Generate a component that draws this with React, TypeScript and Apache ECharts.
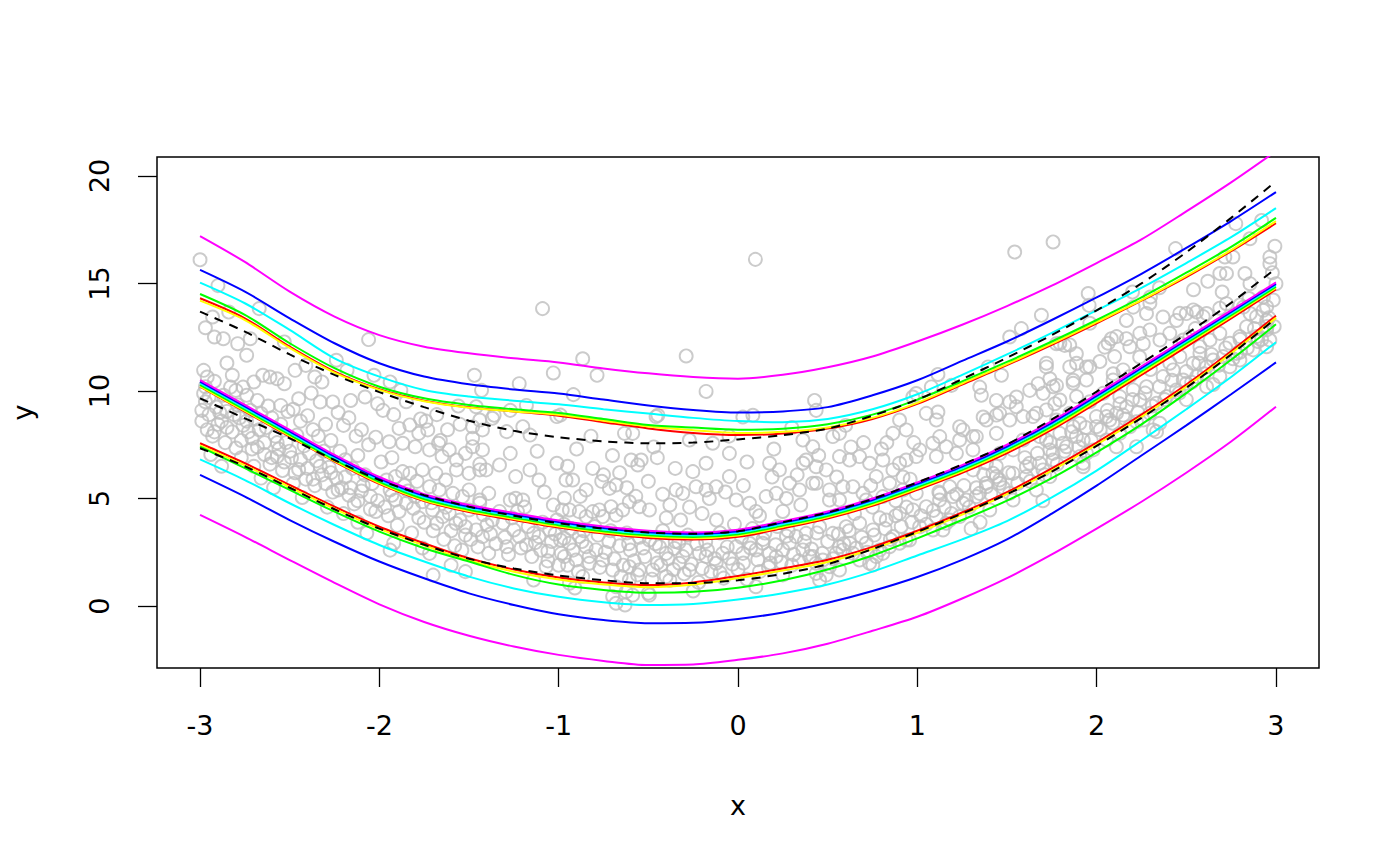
import React, { useEffect, useRef } from "react";
import * as echarts from "echarts";

const xGrid = [-3, -2.75, -2.5, -2.25, -2, -1.75, -1.5, -1.25, -1, -0.75, -0.5, -0.25, 0, 0.25, 0.5, 0.75, 1, 1.25, 1.5, 1.75, 2, 2.25, 2.5, 2.75, 3];
const xTicks = [-3, -2, -1, 0, 1, 2, 3];
const yTicks = [0, 5, 10, 15, 20];

// upper curves
const magentaUp = [17.2, 16.0, 14.62, 13.46, 12.6, 12.06, 11.75, 11.52, 11.33, 11.05, 10.82, 10.65, 10.57, 10.75, 11.1, 11.6, 12.3, 13.08, 13.95, 14.9, 15.95, 17.05, 18.35, 19.7, 21.15];
const blueUp = [15.63, 14.62, 13.38, 12.22, 11.29, 10.67, 10.31, 10.07, 9.88, 9.6, 9.33, 9.12, 9.0, 9.05, 9.25, 9.8, 10.5, 11.4, 12.3, 13.3, 14.35, 15.45, 16.65, 17.9, 19.25];
const cyanUp = [15.04, 14.08, 12.84, 11.52, 10.67, 10.05, 9.74, 9.55, 9.38, 9.15, 8.95, 8.75, 8.6, 8.55, 8.7, 9.15, 9.85, 10.75, 11.7, 12.7, 13.75, 14.8, 15.95, 17.15, 18.5];
const greenUp = [14.51, 13.54, 12.22, 11.06, 10.2, 9.66, 9.35, 9.15, 8.98, 8.7, 8.42, 8.3, 8.2, 8.25, 8.45, 8.9, 9.6, 10.45, 11.35, 12.3, 13.3, 14.35, 15.5, 16.7, 18.05];
const yellowUp = [14.2, 13.3, 12.0, 10.85, 10.05, 9.52, 9.22, 9.05, 8.9, 8.62, 8.35, 8.18, 8.05, 8.1, 8.3, 8.75, 9.45, 10.35, 11.25, 12.2, 13.2, 14.22, 15.35, 16.55, 17.9];
const redUp = [14.31, 13.38, 12.06, 10.9, 10.08, 9.55, 9.24, 9.05, 8.85, 8.55, 8.26, 8.05, 7.95, 8.02, 8.25, 8.7, 9.4, 10.3, 11.2, 12.15, 13.15, 14.2, 15.3, 16.5, 17.8];
const blackUp = [13.69, 12.76, 11.7, 10.75, 9.95, 9.25, 8.62, 8.15, 7.85, 7.66, 7.57, 7.6, 7.75, 7.95, 8.25, 8.85, 9.6, 10.55, 11.55, 12.6, 13.75, 15.0, 16.45, 18.05, 19.75];

// middle curves
const magentaMid = [10.51, 9.35, 8.19, 7.03, 6.0, 5.2, 4.7, 4.33, 3.98, 3.7, 3.5, 3.42, 3.55, 3.95, 4.4, 5.0, 5.75, 6.55, 7.5, 8.6, 9.85, 11.15, 12.45, 13.75, 15.05];
const blueMid = [10.44, 9.28, 8.12, 6.96, 5.93, 5.13, 4.63, 4.26, 3.91, 3.63, 3.43, 3.35, 3.48, 3.88, 4.33, 4.93, 5.68, 6.48, 7.42, 8.52, 9.77, 11.07, 12.38, 13.68, 14.98];
const cyanMid = [10.37, 9.21, 8.05, 6.89, 5.86, 5.06, 4.56, 4.19, 3.84, 3.56, 3.36, 3.28, 3.41, 3.81, 4.26, 4.86, 5.61, 6.41, 7.35, 8.45, 9.7, 11.0, 12.31, 13.61, 14.92];
const greenMid = [10.28, 9.13, 7.97, 6.81, 5.78, 4.98, 4.48, 4.11, 3.76, 3.48, 3.29, 3.21, 3.34, 3.74, 4.19, 4.79, 5.53, 6.33, 7.27, 8.36, 9.62, 10.92, 12.23, 13.53, 14.85];
const yellowMid = [10.22, 9.07, 7.91, 6.75, 5.72, 4.92, 4.42, 4.05, 3.7, 3.42, 3.23, 3.15, 3.28, 3.68, 4.13, 4.72, 5.46, 6.26, 7.19, 8.28, 9.54, 10.84, 12.15, 13.46, 14.79];
const redMid = [10.2, 9.04, 7.88, 6.72, 5.68, 4.88, 4.37, 4.0, 3.65, 3.37, 3.17, 3.1, 3.22, 3.62, 4.07, 4.66, 5.4, 6.19, 7.11, 8.2, 9.45, 10.75, 12.05, 13.38, 14.72];
const blackMid = [9.66, 8.73, 7.8, 6.79, 5.86, 5.16, 4.62, 4.2, 3.85, 3.6, 3.42, 3.36, 3.48, 3.9, 4.35, 4.98, 5.75, 6.58, 7.52, 8.68, 9.97, 11.3, 12.65, 14.1, 15.7];

// lower curves
const redLow = [7.57, 6.64, 5.63, 4.62, 3.69, 2.92, 2.22, 1.7, 1.33, 1.1, 0.98, 1.1, 1.4, 1.75, 2.15, 2.75, 3.5, 4.35, 5.3, 6.4, 7.6, 8.9, 10.3, 11.85, 13.5];
const yellowLow = [7.47, 6.54, 5.53, 4.52, 3.59, 2.82, 2.12, 1.6, 1.23, 1.0, 0.88, 1.0, 1.3, 1.65, 2.05, 2.65, 3.4, 4.25, 5.2, 6.3, 7.5, 8.8, 10.2, 11.75, 13.4];
const blackLow = [7.34, 6.5, 5.5, 4.5, 3.6, 2.85, 2.2, 1.75, 1.42, 1.2, 1.06, 1.07, 1.2, 1.5, 1.95, 2.65, 3.45, 4.3, 5.2, 6.25, 7.45, 8.75, 10.15, 11.7, 13.38];
const greenLow = [7.41, 6.41, 5.4, 4.39, 3.46, 2.69, 2.07, 1.45, 1.0, 0.75, 0.62, 0.66, 0.85, 1.2, 1.7, 2.35, 3.15, 4.0, 4.9, 5.95, 7.15, 8.45, 9.9, 11.45, 13.1];
const cyanLow = [6.82, 5.86, 4.78, 3.77, 2.84, 2.07, 1.37, 0.82, 0.43, 0.18, 0.05, 0.1, 0.3, 0.6, 1.0, 1.6, 2.35, 3.1, 3.95, 5.05, 6.3, 7.7, 9.15, 10.65, 12.27];
const blueLow = [6.1, 5.09, 4.0, 2.99, 2.07, 1.29, 0.59, 0.05, -0.38, -0.65, -0.8, -0.78, -0.6, -0.3, 0.15, 0.7, 1.35, 2.15, 3.1, 4.3, 5.6, 7.0, 8.4, 9.85, 11.33];
const magentaLow = [4.24, 3.22, 2.14, 1.08, 0.08, -0.74, -1.38, -1.88, -2.27, -2.55, -2.74, -2.72, -2.5, -2.2, -1.75, -1.15, -0.5, 0.35, 1.3, 2.4, 3.6, 4.85, 6.2, 7.65, 9.27];

// observations (x, y)
const obsLeft = [
  [-3.0, 16.1], [-2.9, 14.9], [-2.67, 13.83], [-2.84, 13.67], [-2.93, 13.44], [-2.97, 12.94], [-2.92, 12.51],
  [-2.87, 12.43], [-2.79, 12.2], [-2.74, 11.66], [-2.72, 12.43], [-2.53, 12.28], [-2.24, 11.43], [-2.18, 10.96],
  [-2.06, 12.39], [-2.41, 11.19], [-2.36, 10.65], [-2.32, 10.42], [-2.47, 10.96], [-2.65, 10.73], [-2.61, 10.65],
  [-2.57, 10.57], [-2.53, 10.34], [-2.98, 10.96], [-2.96, 10.65], [-2.82, 10.73], [-2.76, 10.18], [-2.7, 10.42],
  [-2.83, 10.18], [-2.8, 10.03], [-2.87, 9.8], [-2.74, 9.8], [-2.68, 9.56], [-2.98, 9.88], [-2.99, 9.1],
  [-2.55, 9.33], [-2.45, 9.64], [-2.33, 9.49], [-2.26, 9.49], [-2.16, 9.56], [-2.08, 9.72], [-2.01, 9.41],
  [-2.03, 10.73], [-2.97, 9.5], [-2.95, 8.9], [-2.91, 9.25], [-2.88, 8.6], [-2.85, 9.05], [-2.96, 8.2],
  [-2.93, 7.9], [-2.9, 8.45], [-2.82, 8.1], [-2.78, 8.75], [-2.86, 7.6], [-2.8, 7.35], [-2.77, 6.9],
  [-2.94, 7.05], [-2.88, 6.5], [-2.79, 9.35], [-2.76, 8.4], [-2.97, 10.2], [-2.92, 10.45], [-2.85, 11.3],
  [-2.72, 9.1], [-2.69, 8.7], [-2.66, 8.95], [-2.63, 8.3], [-2.6, 8.75], [-2.58, 7.9], [-2.55, 8.45],
  [-2.52, 7.6], [-2.71, 7.8], [-2.68, 7.4], [-2.64, 7.05], [-2.61, 6.6], [-2.57, 6.95], [-2.54, 6.3],
  [-2.7, 6.5], [-2.66, 5.95], [-2.59, 5.5], [-2.73, 8.1], [-2.62, 9.3], [-2.51, 9.05], [-2.56, 7.3],
  [-2.48, 9.15], [-2.44, 8.6], [-2.4, 8.85], [-2.37, 8.2], [-2.34, 7.9], [-2.3, 8.45], [-2.27, 7.7],
  [-2.46, 7.95], [-2.42, 7.45], [-2.39, 7.1], [-2.35, 6.75], [-2.31, 7.2], [-2.28, 6.45], [-2.49, 6.9],
  [-2.45, 6.35], [-2.41, 5.9], [-2.36, 5.6], [-2.32, 6.1], [-2.26, 5.3], [-2.48, 5.7], [-2.43, 5.05],
  [-2.29, 4.6], [-2.38, 9.9], [-2.23, 9.0], [-2.2, 8.4], [-2.17, 8.75], [-2.13, 7.9], [-2.1, 8.2],
  [-2.06, 7.5], [-2.02, 7.85], [-2.22, 7.2], [-2.19, 6.8], [-2.15, 6.4], [-2.12, 7.0], [-2.08, 6.1],
  [-2.04, 5.7], [-2.24, 5.95], [-2.21, 5.5], [-2.17, 5.15], [-2.14, 4.75], [-2.1, 5.35], [-2.05, 4.5],
  [-2.01, 4.9], [-2.2, 4.3], [-2.07, 3.4], [-2.12, 3.9],
  [-2.99, 8.6], [-2.95, 9.7], [-2.92, 8.1], [-2.89, 9.0], [-2.85, 8.3], [-2.81, 8.9], [-2.77, 7.7],
  [-2.74, 8.6], [-2.71, 7.3], [-2.67, 8.2], [-2.64, 7.6], [-2.6, 6.9], [-2.57, 7.6], [-2.53, 6.7],
  [-2.5, 7.2], [-2.47, 6.2], [-2.44, 6.8], [-2.4, 6.4], [-2.37, 5.9], [-2.33, 6.5], [-2.3, 5.7],
  [-2.27, 6.2], [-2.23, 5.4], [-2.19, 6.0], [-2.16, 5.5], [-2.12, 4.9], [-2.09, 5.6], [-2.05, 5.1],
  [-2.02, 4.4],
];

const obsCentreLeft = [
  [-1.94, 10.42], [-1.88, 10.03], [-1.47, 10.73], [-1.43, 10.03], [-1.36, 8.87], [-1.27, 9.1], [-1.22, 10.34],
  [-1.03, 10.84], [-1.18, 9.33], [-1.09, 13.83], [-1.945, 7.64], [-1.89, 8.26], [-1.83, 8.42], [-1.78, 8.03],
  [-1.73, 8.19], [-1.87, 7.57], [-1.8, 7.41], [-1.72, 7.26], [-1.67, 7.57], [-1.87, 6.25], [-1.83, 6.17],
  [-1.91, 6.02], [-1.96, 5.86], [-1.76, 6.33], [-1.85, 4.78], [-1.8, 5.09], [-1.91, 4.93], [-1.94, 5.4],
  [-1.76, 4.85], [-1.98, 9.1], [-1.92, 8.9], [-1.85, 9.5], [-1.77, 8.7], [-1.95, 4.2], [-1.9, 3.75],
  [-1.82, 3.4], [-1.78, 4.1], [-1.99, 6.7], [-1.93, 6.9], [-1.86, 5.6], [-1.79, 5.8], [-1.76, 2.7],
  [-1.94, 2.6], [-1.92, 2.92], [-1.7, 1.44], [-1.52, 1.6], [-1.666, 5.4], [-1.61, 7.26], [-1.65, 6.95],
  [-1.57, 6.79], [-1.52, 7.1], [-1.685, 6.17], [-1.63, 5.86], [-1.57, 6.33], [-1.703, 4.47], [-1.647, 4.16],
  [-1.61, 4.31], [-1.573, 3.85], [-1.536, 5.09], [-1.59, 5.24], [-1.72, 5.55], [-1.74, 8.6], [-1.68, 8.9],
  [-1.62, 8.2], [-1.55, 8.45], [-1.7, 3.5], [-1.64, 3.1], [-1.58, 2.8], [-1.52, 3.3], [-1.72, 2.45],
  [-1.6, 1.9], [-1.66, 7.7], [-1.56, 9.3], [-1.48, 7.8], [-1.425, 8.19], [-1.48, 8.34], [-1.46, 9.27],
  [-1.425, 7.26], [-1.44, 6.33], [-1.405, 6.33], [-1.5, 6.17], [-1.52, 3.69], [-1.46, 3.54], [-1.425, 3.23],
  [-1.5, 4.47], [-1.44, 4.78], [-1.4, 3.77], [-1.37, 4.0], [-1.31, 3.85], [-1.25, 3.54], [-1.44, 4.93],
  [-1.5, 5.4], [-1.39, 5.24], [-1.44, 6.6], [-1.33, 6.56], [-1.27, 7.1], [-1.48, 7.41], [-1.44, 8.65],
  [-1.37, 8.73], [-1.29, 8.11], [-1.27, 4.93], [-1.24, 5.01], [-1.39, 2.45], [-1.29, 2.76], [-1.2, 8.34],
  [-1.16, 7.95], [-1.01, 8.81], [-1.24, 6.02], [-1.16, 6.33], [-1.11, 5.86], [-1.01, 6.64], [-1.22, 3.23],
  [-1.18, 2.84], [-1.14, 3.38], [-1.11, 3.23], [-1.05, 3.54], [-1.01, 4.0], [-1.2, 4.93], [-1.14, 1.21],
  [-1.07, 1.83], [-1.23, 4.4], [-1.19, 4.6], [-1.15, 2.3], [-1.1, 2.6], [-1.06, 2.1], [-1.03, 4.7],
  [-1.12, 7.2], [-1.08, 5.3], [-1.04, 3.0],
  [-1.97, 4.6], [-1.93, 5.15], [-1.89, 4.4], [-1.84, 5.35], [-1.81, 4.55], [-1.75, 3.9], [-1.71, 4.8],
  [-1.68, 3.85], [-1.63, 4.6], [-1.6, 3.5], [-1.55, 4.0], [-1.54, 2.6], [-1.49, 3.1], [-1.45, 2.75],
  [-1.42, 4.25], [-1.38, 3.35], [-1.35, 2.9], [-1.33, 4.4], [-1.3, 3.2], [-1.28, 2.4], [-1.26, 4.1],
  [-1.21, 2.7], [-1.17, 3.7], [-1.13, 2.95], [-1.09, 3.9], [-1.06, 2.55], [-1.02, 3.35], [-1.0, 1.9],
];

const obsCentre = [
  [-0.866, 11.5], [-0.786, 10.73], [-0.918, 9.83], [-0.289, 11.63], [-0.178, 9.98], [-0.447, 8.87],
  [-0.99, 8.88], [-0.633, 8.03], [-0.587, 8.03], [-0.81, 6.4], [-0.596, 6.79], [-0.559, 6.56], [-0.54, 6.79],
  [-0.959, 5.86], [-0.922, 5.86], [-0.847, 5.4], [-0.968, 5.01], [-0.717, 5.47], [-0.68, 5.63], [-0.98, 4.47],
  [-0.94, 4.47], [-0.885, 4.39], [-0.847, 4.16], [-0.81, 4.39], [-0.773, 4.47], [-0.754, 4.16], [-0.708, 4.62],
  [-0.68, 4.23], [-0.643, 4.47], [-0.606, 4.85], [-0.55, 4.62], [-0.494, 4.47], [-0.99, 3.07], [-0.97, 3.15],
  [-0.94, 2.92], [-0.885, 3.23], [-0.847, 2.76], [-0.792, 2.61], [-0.985, 2.45], [-0.968, 2.3], [-0.903, 2.14],
  [-0.829, 1.99], [-0.754, 2.14], [-0.699, 1.68], [-0.652, 1.37], [-0.606, 1.21], [-0.94, 1.06], [-0.866, 1.37],
  [-0.699, 0.44], [-0.63, 0.05], [-0.587, 0.51], [-0.494, 0.51], [-0.68, 0.9], [-0.494, 3.07], [-0.438, 2.76],
  [-0.401, 2.45], [-0.354, 2.68], [-0.308, 2.3], [-0.327, 1.99], [-0.271, 1.68], [-0.215, 2.45], [-0.178, 2.3],
  [-0.122, 1.99], [-0.085, 2.45], [-0.048, 2.22], [-0.01, 2.76], [-0.475, 1.68], [-0.401, 1.37], [-0.606, 1.83],
  [-0.55, 1.68], [-0.624, 0.67], [-0.457, 8.81], [-0.271, 7.72], [-0.141, 7.57], [-0.048, 7.1], [-0.178, 6.64],
  [-0.252, 6.25], [-0.345, 5.4], [-0.308, 5.24], [-0.234, 5.55], [-0.178, 5.4], [-0.122, 5.55], [-0.048, 6.02],
  [-0.01, 4.93], [-0.68, 0.13], [-0.45, 2.0], [-0.38, 1.2], [-0.3, 1.5], [-0.22, 1.1], [-0.15, 1.6],
  [-0.08, 1.3], [-0.6, 2.6], [-0.55, 3.2], [-0.42, 3.5], [-0.35, 3.0], [-0.28, 3.3], [-0.18, 3.0],
  [-0.1, 3.4], [-0.5, 0.6], [-0.25, 0.7], [-0.9, 7.3], [-0.7, 7.0], [-0.45, 6.9], [-0.35, 6.4], [-0.05, 7.9],
  [-0.93, 3.6], [-0.86, 3.5], [-0.78, 3.3], [-0.72, 3.0], [-0.66, 2.8], [-0.62, 3.4], [-0.52, 2.3],
  [-0.4, 4.1], [-0.32, 4.0], [-0.2, 4.3], [-0.12, 4.0], [-0.02, 3.8], [-0.75, 6.1], [-0.62, 5.5],
  [-0.5, 5.8], [-0.42, 5.2], [-0.82, 7.9], [-0.91, 0.84],
  [-0.97, 3.8], [-0.95, 1.9], [-0.92, 2.6], [-0.89, 1.6], [-0.87, 3.0], [-0.83, 2.3], [-0.8, 3.7],
  [-0.77, 1.8], [-0.74, 2.5], [-0.71, 3.5], [-0.69, 2.2], [-0.64, 1.9], [-0.61, 2.9], [-0.58, 2.1],
  [-0.56, 1.45], [-0.53, 2.7], [-0.48, 1.25], [-0.46, 2.9], [-0.43, 1.9], [-0.39, 2.2], [-0.36, 1.7],
  [-0.33, 2.95], [-0.29, 2.6], [-0.26, 1.95], [-0.23, 2.9], [-0.2, 1.75], [-0.17, 2.6], [-0.13, 2.2],
  [-0.1, 1.55], [-0.06, 2.75], [-0.03, 1.95], [-0.95, 6.5], [-0.88, 5.1], [-0.76, 5.8], [-0.66, 6.2],
  [-0.57, 5.1], [-0.47, 7.4], [-0.38, 4.7], [-0.27, 4.6], [-0.16, 5.0], [-0.07, 5.3],
];

const obsCentreRight = [
  [0.097, 16.12], [0.427, 9.56], [0.436, 9.1], [0.027, 8.79], [0.083, 8.87], [0.994, 9.88], [0.975, 9.72],
  [0.027, 2.45], [0.064, 2.92], [0.101, 2.61], [0.138, 2.92], [0.176, 2.45], [0.213, 2.3], [0.25, 2.61],
  [0.287, 2.92], [0.324, 3.23], [0.362, 2.61], [0.399, 2.3], [0.436, 1.99], [0.473, 2.14], [0.51, 1.83],
  [0.548, 2.45], [0.585, 2.61], [0.622, 2.92], [0.678, 2.14], [0.734, 1.99], [0.771, 2.3], [0.808, 2.45],
  [0.845, 2.76], [0.901, 2.92], [0.957, 3.07], [0.492, 1.44], [0.566, 1.68], [0.064, 4.78], [0.157, 5.09],
  [0.213, 5.24], [0.287, 5.71], [0.343, 5.4], [0.436, 5.71], [0.51, 4.93], [0.176, 6.64], [0.231, 6.33],
  [0.362, 6.64], [0.436, 6.48], [0.492, 6.33], [0.566, 6.95], [0.622, 6.79], [0.678, 6.95], [0.734, 6.64],
  [0.808, 6.79], [0.901, 6.64], [0.994, 6.95], [0.362, 7.72], [0.417, 7.41], [0.529, 7.88], [0.864, 8.03],
  [0.938, 8.19], [0.771, 6.02], [0.845, 5.71], [0.585, 5.55], [0.697, 5.24], [0.808, 5.09], [0.92, 5.4],
  [0.994, 5.24], [0.436, 1.52], [0.455, 1.21], [0.752, 1.91], [0.417, 2.3], [0.566, 2.76], [0.641, 2.45],
  [0.715, 2.92], [0.79, 2.61], [0.864, 3.23], [0.938, 3.07], [0.38, 3.38], [0.455, 3.69], [0.529, 3.38],
  [0.603, 3.69], [0.678, 3.85], [0.752, 3.54], [0.827, 4.0], [0.901, 4.31], [0.975, 4.47], [0.38, 6.79],
  [0.864, 6.33], [0.938, 6.79], [0.566, 8.03], [0.901, 8.65], [0.417, 5.71], [0.51, 5.4], [0.641, 5.55],
  [0.715, 4.93], [0.566, 4.93], [0.0, 1.7], [0.05, 1.25], [0.12, 1.6], [0.18, 2.0], [0.25, 1.45],
  [0.3, 1.9], [0.1, 0.9], [0.02, 3.2], [0.08, 3.6], [0.15, 3.4], [0.22, 3.7], [0.28, 3.5], [0.05, 6.7],
  [0.2, 7.3], [0.3, 8.3], [0.12, 4.2], [0.25, 4.4], [0.35, 4.7], [0.65, 4.3], [0.75, 4.6], [0.88, 4.9],
  [0.6, 8.4], [0.7, 7.6], [0.8, 7.3], [0.96, 5.9],
  [0.03, 2.0], [0.07, 2.7], [0.11, 2.15], [0.14, 3.1], [0.17, 1.8], [0.21, 2.85], [0.24, 2.05],
  [0.27, 3.25], [0.31, 2.4], [0.34, 2.1], [0.37, 3.0], [0.41, 2.65], [0.44, 3.4], [0.47, 2.45],
  [0.5, 3.0], [0.53, 2.2], [0.56, 3.35], [0.59, 2.9], [0.62, 3.5], [0.66, 2.7], [0.69, 3.2],
  [0.72, 2.5], [0.76, 3.3], [0.79, 4.1], [0.82, 3.6], [0.85, 3.1], [0.88, 4.2], [0.91, 3.7],
  [0.94, 4.6], [0.97, 3.9], [0.03, 5.6], [0.1, 4.4], [0.19, 6.0], [0.27, 5.0], [0.33, 6.1],
  [0.45, 7.0], [0.55, 6.0], [0.63, 7.4], [0.74, 5.6], [0.83, 7.6], [0.92, 6.0], [0.98, 7.6],
];

const obsRight = [
  [1.115, 10.77], [1.078, 10.19], [1.543, 16.46], [1.757, 16.93], [1.953, 14.53], [1.958, 13.98], [1.692, 13.52],
  [1.58, 12.9], [1.515, 12.51], [1.776, 12.2], [1.822, 12.12], [1.887, 11.73], [1.943, 11.12], [1.72, 11.12],
  [1.739, 10.57], [1.85, 11.12], [1.869, 10.5], [1.776, 10.26], [1.674, 10.34], [1.627, 10.03], [1.553, 9.72],
  [1.469, 10.73], [1.395, 11.12], [1.348, 10.18], [1.357, 9.8], [1.441, 9.56], [1.515, 9.49], [1.19, 10.26],
  [1.115, 9.02], [1.367, 8.79], [1.767, 9.41], [1.013, 3.69], [1.087, 3.54], [1.161, 3.85], [1.236, 4.16],
  [1.05, 4.62], [1.124, 4.93], [1.199, 5.09], [1.273, 4.93], [1.347, 5.24], [1.385, 5.71], [1.459, 5.86],
  [1.533, 6.17], [1.608, 6.48], [1.682, 6.64], [1.757, 6.79], [1.422, 6.17], [1.013, 7.26], [1.087, 7.57],
  [1.161, 7.41], [1.236, 7.72], [1.31, 7.88], [1.385, 8.65], [1.459, 8.96], [1.552, 9.27], [1.645, 8.81],
  [1.72, 9.12], [1.05, 8.96], [1.106, 8.65], [1.236, 8.34], [1.31, 7.26], [1.441, 8.88], [1.515, 8.65],
  [1.59, 8.81], [1.664, 8.96], [1.255, 8.19], [1.329, 7.88], [1.125, 7.88], [1.441, 8.03], [1.776, 8.65],
  [1.85, 8.96], [1.906, 8.5], [1.999, 8.81], [1.106, 6.95], [1.218, 7.1], [1.311, 6.33], [1.385, 6.64],
  [1.46, 7.1], [1.534, 7.26], [1.59, 7.72], [1.683, 7.88], [1.739, 7.26], [1.813, 7.57], [1.887, 7.88],
  [1.627, 6.64], [1.701, 6.33], [1.441, 6.02], [1.385, 5.55], [1.46, 5.71], [1.515, 5.24], [1.608, 6.02],
  [1.664, 5.4], [1.739, 6.02], [1.125, 5.24], [1.181, 5.55], [1.255, 4.78], [1.329, 5.09], [1.404, 4.47],
  [1.106, 4.16], [1.181, 4.0], [1.534, 4.93], [1.925, 6.48], [1.943, 7.1], [1.143, 3.54], [1.72, 11.29],
  [1.888, 11.29], [1.962, 11.13], [1.757, 10.2], [1.869, 10.36], [1.943, 10.51], [1.702, 9.89], [1.795, 9.58],
  [1.888, 9.74], [1.962, 9.5], [1.795, 12.22], [1.85, 12.14], [1.962, 13.15], [1.72, 7.72], [1.795, 8.03],
  [1.869, 8.34], [1.925, 7.72], [1.757, 7.1], [1.832, 7.41], [1.906, 6.95], [1.981, 7.26], [1.925, 6.64],
  [1.3, 3.6], [1.35, 3.9], [1.7, 4.9],
  [1.02, 4.2], [1.05, 3.8], [1.09, 4.45], [1.12, 5.3], [1.15, 4.6], [1.19, 4.3], [1.22, 5.2],
  [1.26, 5.6], [1.29, 4.6], [1.33, 5.5], [1.37, 6.1], [1.41, 5.2], [1.44, 6.5], [1.48, 5.5],
  [1.51, 6.2], [1.56, 5.7], [1.6, 6.9], [1.63, 5.8], [1.67, 7.1], [1.71, 6.1], [1.74, 7.6],
  [1.78, 6.6], [1.82, 7.2], [1.86, 8.1], [1.9, 7.4], [1.94, 8.3], [1.97, 7.7],
];

const obsFarRight = [
  [2.44, 16.62], [2.54, 14.71], [2.92, 17.93], [2.776, 17.78], [2.855, 17.08], [2.994, 16.73], [2.966, 16.23],
  [2.966, 15.92], [2.76, 16.23], [2.715, 16.23], [2.687, 15.46], [2.724, 15.46], [2.827, 15.46], [2.855, 14.99],
  [3.0, 14.99], [2.93, 14.37], [2.204, 13.9], [2.3, 14.37], [2.278, 13.6], [2.166, 13.28], [2.37, 13.44],
  [2.445, 13.28], [2.5, 13.6], [2.557, 13.67], [2.613, 13.6], [2.724, 14.06], [2.818, 13.9], [2.856, 13.6],
  [2.929, 13.75], [2.948, 13.28], [2.082, 12.43], [2.045, 12.04], [2.166, 12.43], [2.26, 12.2], [2.24, 11.58],
  [2.092, 10.8], [2.297, 14.08], [2.464, 13.61], [2.539, 13.77], [2.594, 13.46], [2.687, 13.85], [2.799, 14.0],
  [2.892, 13.46], [2.948, 13.92], [2.985, 14.23], [2.064, 12.22], [2.111, 12.53], [2.185, 12.06], [2.241, 12.68],
  [2.297, 12.84], [2.353, 12.37], [2.408, 12.68], [2.464, 12.22], [2.52, 12.53], [2.576, 12.06], [2.632, 12.37],
  [2.687, 12.68], [2.743, 12.22], [2.799, 12.53], [2.836, 12.99], [2.892, 12.53], [2.948, 12.84], [2.706, 11.6],
  [2.78, 11.75], [2.873, 11.91], [2.948, 12.06], [2.018, 11.37], [2.148, 10.98], [2.185, 10.67], [2.092, 10.51],
  [2.036, 9.89], [2.129, 9.74], [2.204, 10.05], [2.278, 10.2], [2.241, 9.58], [2.371, 10.67], [2.427, 10.98],
  [2.483, 10.51], [2.408, 11.29], [2.464, 11.6], [2.539, 11.29], [2.576, 11.75], [2.613, 11.13], [2.65, 11.44],
  [2.483, 12.37], [1.999, 8.34], [2.055, 8.81], [2.111, 8.96], [2.167, 9.27], [2.055, 7.72], [2.129, 8.03],
  [2.185, 8.34], [2.26, 8.65], [2.315, 8.19], [2.334, 9.43], [2.39, 9.74], [2.445, 10.05], [2.501, 10.36],
  [2.557, 10.67], [2.613, 10.2], [2.687, 10.67], [2.743, 11.13], [2.799, 11.44], [2.966, 12.37], [2.334, 8.11],
  [2.073, 8.65], [2.148, 8.88], [2.222, 8.57], [2.297, 8.96], [2.352, 8.5], [2.11, 7.41], [2.222, 7.41],
  [2.5, 9.6], [2.65, 10.3], [2.8, 11.8], [2.9, 12.3], [2.95, 13.0], [2.35, 14.8], [2.62, 15.1], [2.2, 14.6],
  [2.02, 8.2], [2.06, 9.1], [2.09, 8.5], [2.13, 9.4], [2.16, 8.7], [2.2, 9.6], [2.23, 9.0],
  [2.27, 9.9], [2.31, 9.3], [2.35, 10.2], [2.38, 9.6], [2.42, 10.5], [2.46, 9.9], [2.5, 10.9],
  [2.53, 10.4], [2.57, 11.3], [2.6, 10.8], [2.64, 11.7], [2.68, 11.2], [2.72, 12.0], [2.76, 11.5],
  [2.8, 12.4], [2.84, 12.0], [2.88, 12.9], [2.92, 12.4], [2.96, 13.4], [2.99, 13.0], [2.1, 11.6],
  [2.3, 11.0], [2.55, 12.9], [2.7, 14.6], [2.85, 14.3], [2.98, 15.5],
];

const FONT = "DejaVu Sans";
const pair = (ys: number[]) => xGrid.map((x, i) => [x, ys[i]]);

const curveSets: [string, string, number[][], boolean][] = [
  ["red", "#FF0000", [redLow, redMid, redUp], false],
  ["yellow", "#FFFF00", [yellowLow, yellowMid, yellowUp], false],
  ["green", "#00FF00", [greenLow, greenMid, greenUp], false],
  ["cyan", "#00FFFF", [cyanLow, cyanMid, cyanUp], false],
  ["blue", "#0000FF", [blueLow, blueMid, blueUp], false],
  ["magenta", "#FF00FF", [magentaLow, magentaMid, magentaUp], false],
  ["truth", "#000000", [blackLow, blackMid, blackUp], true],
];

export default function App() {
  const ref = useRef<HTMLDivElement>(null);
  useEffect(() => {
    if (!ref.current) return;
    const chart = echarts.init(ref.current, null, { renderer: "svg" });
    const obs = [...obsLeft, ...obsCentreLeft, ...obsCentre, ...obsCentreRight, ...obsRight, ...obsFarRight];
    const lineSeries: any[] = [];
    curveSets.forEach(([name, color, sets, dashed]) => {
      sets.forEach((ys, k) => {
        lineSeries.push({
          name: name + k,
          type: "line",
          data: pair(ys),
          showSymbol: false,
          symbol: "none",
          smooth: 0.3,
          clip: true,
          lineStyle: { color, width: 2, type: dashed ? [9, 7] : "solid" },
          z: 3,
        });
      });
    });
    const tickStyle = { color: "#000", width: 1.3 };
    const textStyle = { fontFamily: FONT, fontSize: 27, color: "#000" };
    chart.setOption({
      animation: false,
      backgroundColor: "#FFFFFF",
      grid: {
        left: 157,
        top: 157,
        width: 1162,
        height: 511,
        show: true,
        borderColor: "#000",
        borderWidth: 1.5,
        backgroundColor: "transparent",
      },
      xAxis: {
        type: "value",
        min: -3.24,
        max: 3.24,
        splitLine: { show: false },
        axisLine: { show: false, onZero: false },
        axisTick: { show: true, customValues: xTicks, length: 19, lineStyle: tickStyle },
        axisLabel: { customValues: xTicks, ...textStyle, margin: 44 },
        name: "x",
        nameLocation: "middle",
        nameGap: 124,
        nameTextStyle: textStyle,
      },
      yAxis: {
        type: "value",
        min: -2.88,
        max: 20.88,
        splitLine: { show: false },
        axisLine: { show: false, onZero: false },
        axisTick: { show: true, customValues: yTicks, length: 19, lineStyle: tickStyle },
        axisLabel: { customValues: yTicks, rotate: 90, ...textStyle, margin: 44 },
        name: "y",
        nameLocation: "middle",
        nameRotate: 90,
        nameGap: 121,
        nameTextStyle: textStyle,
      },
      series: [
        {
          name: "obs",
          type: "scatter",
          data: obs,
          symbol: "circle",
          symbolSize: 13,
          itemStyle: { color: "rgba(255,255,255,0)", borderColor: "#BEBEBE", borderWidth: 1.9 },
          z: 2,
          silent: true,
        },
        ...lineSeries,
      ],
    });
    return () => chart.dispose();
  }, []);
  return (
    <div
      ref={ref}
      style={{ position: "fixed", left: 0, top: 0, width: 1400, height: 865, background: "#fff" }}
    />
  );
}
